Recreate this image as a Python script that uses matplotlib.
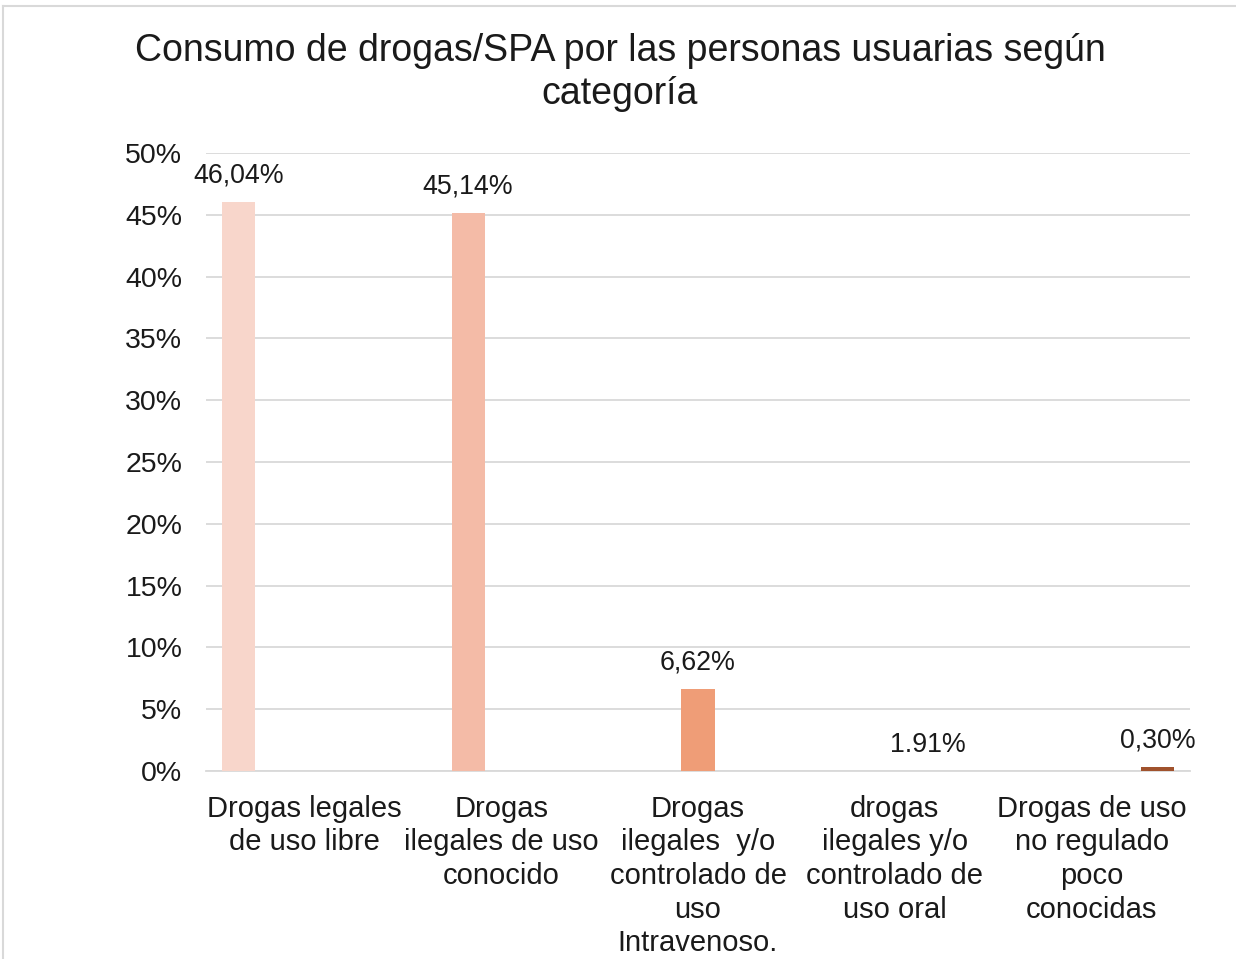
import numpy as np
import matplotlib.pyplot as plt
from matplotlib.lines import Line2D

plt.rcParams['font.family'] = ['Liberation Sans', 'DejaVu Sans']

categories = ['Drogas legales\nde uso libre',
              'Drogas\nilegales de uso\nconocido',
              'Drogas\nilegales  y/o\ncontrolado de\nuso\nIntravenoso.',
              'drogas\nilegales y/o\ncontrolado de\nuso oral',
              'Drogas de uso\nno regulado\npoco\nconocidas']
values = [46.04, 45.14, 6.62, 0.0, 0.30]  # series 4 bar is not drawn in the source
value_labels = ['46,04%', '45,14%', '6,62%', '1.91%', '0,30%']
colors = ['#F8D6CB', '#F4BBA7', '#EF9D77', '#D97A48', '#A0522D']
yticks = [0, 5, 10, 15, 20, 25, 30, 35, 40, 45, 50]

W, H = 1236, 959
fig = plt.figure(figsize=(W / 100, H / 100), dpi=100)
ax = fig.add_axes([206 / W, (H - 771) / H, (1190 - 206) / W, (771 - 153) / H])

n = len(values)
width = 0.168
x = np.arange(n)
for i, (v, c, lab) in enumerate(zip(values, colors, value_labels)):
    xpos = x[i] + (i - 2) * width
    ax.bar(xpos, v, width=width, color=c, zorder=3)
    ax.annotate(lab, (xpos, v), xytext=(0, 19), textcoords='offset points',
                ha='center', va='center', fontsize=19.3, color='#1a1a1a')

ax.set_xlim(-0.5, n - 0.5)
ax.set_ylim(0, 50)
ax.set_yticks(yticks)
ax.set_yticklabels([f'{t}%' for t in yticks], fontsize=20.5, color='#1a1a1a')
ax.set_xticks(x)
ax.set_xticklabels(categories, fontsize=21, color='#1a1a1a', linespacing=1.26)
ax.tick_params(axis='both', length=0)
ax.tick_params(axis='x', pad=17)
ax.tick_params(axis='y', pad=17)
ax.grid(axis='y', color='#D9D9D9', linewidth=1.3, zorder=0)
for s in ['top', 'right', 'left']:
    ax.spines[s].set_visible(False)
ax.spines['bottom'].set_color('#D9D9D9')
ax.spines['bottom'].set_linewidth(1.3)

fig.text(620 / W, 1 - 72.5 / H, 'Consumo de drogas/SPA por las personas usuarias según\ncategoría',
         ha='center', va='center', fontsize=27, color='#1a1a1a', linespacing=1.28)

# chart border
fig.add_artist(Line2D([3 / W, 1], [1 - 6 / H, 1 - 6 / H], transform=fig.transFigure,
                      color='#D9D9D9', linewidth=1.5))
fig.add_artist(Line2D([3 / W, 3 / W], [0, 1 - 6 / H], transform=fig.transFigure,
                      color='#D9D9D9', linewidth=1.5))

fig.savefig('out.png', dpi=100)
